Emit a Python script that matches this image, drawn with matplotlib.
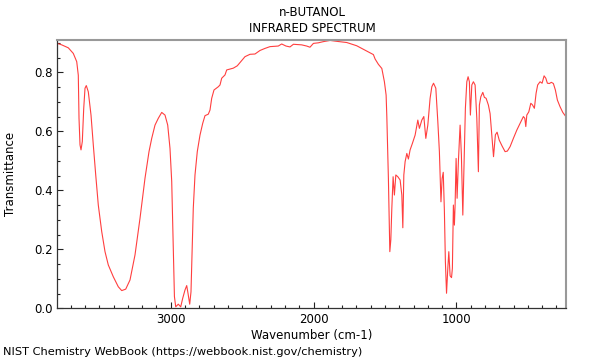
import matplotlib
matplotlib.use("Agg")
import matplotlib.pyplot as plt
from matplotlib.ticker import MultipleLocator

title_lines = ["n-BUTANOL", "INFRARED SPECTRUM"]
x_label = "Wavenumber (cm-1)"
y_label = "Transmittance"
footer = "NIST Chemistry WebBook (https://webbook.nist.gov/chemistry)"

wavenumber = [
    3794, 3763, 3717, 3682, 3658, 3647, 3642, 3635, 3628, 3619, 3609, 3600, 3591,
    3577, 3558, 3542, 3525, 3507, 3483, 3460, 3437, 3402, 3367, 3343, 3315, 3285,
    3250, 3215, 3180, 3152, 3133, 3110, 3087, 3063, 3040, 3021, 3005, 2993, 2984,
    2974, 2965, 2947, 2930, 2916, 2900, 2888, 2879, 2867, 2858, 2851, 2842, 2830,
    2814, 2795, 2776, 2760, 2737, 2725, 2713, 2697, 2667, 2655, 2643, 2620, 2608,
    2585, 2562, 2534, 2510, 2480, 2445, 2410, 2375, 2340, 2305, 2247, 2223, 2193,
    2165, 2141, 2083, 2048, 2025, 2001, 1966, 1931, 1884, 1838, 1768, 1698, 1628,
    1581, 1569, 1546, 1522, 1504, 1492, 1487, 1476, 1466, 1459, 1452, 1443, 1434,
    1424, 1410, 1394, 1382, 1375, 1368, 1359, 1347, 1336, 1324, 1308, 1289, 1270,
    1259, 1242, 1228, 1214, 1200, 1184, 1172, 1160, 1144, 1130, 1119, 1108, 1100,
    1092, 1084, 1077, 1069, 1060, 1053, 1044, 1034, 1028, 1021, 1014, 1009, 1002,
    995, 986, 974, 965, 955, 946, 937, 927, 918, 909, 902, 892, 881, 869, 857, 846,
    839, 829, 815, 804, 792, 776, 764, 752, 740, 727, 715, 700, 680, 659, 643, 624,
    601, 577, 554, 531, 521, 514, 507, 493, 479, 468, 454, 442, 431, 414, 400, 386,
    374, 363, 349, 335, 321, 307, 293, 274, 255, 234,
]
transmittance = [
    0.898, 0.893, 0.883, 0.864, 0.836, 0.790, 0.644, 0.554, 0.537, 0.565, 0.678, 0.746, 0.755,
    0.734, 0.655, 0.554, 0.452, 0.350, 0.260, 0.192, 0.147, 0.107, 0.073, 0.060, 0.065, 0.096,
    0.181, 0.305, 0.441, 0.531, 0.576, 0.621, 0.644, 0.664, 0.655, 0.621, 0.542, 0.430, 0.248,
    0.040, 0.005, 0.014, 0.005, 0.034, 0.062, 0.077, 0.051, 0.014, 0.056, 0.181, 0.339, 0.452,
    0.531, 0.587, 0.627, 0.653, 0.658, 0.672, 0.712, 0.740, 0.751, 0.757, 0.780, 0.791, 0.808,
    0.811, 0.814, 0.822, 0.836, 0.853, 0.861, 0.862, 0.874, 0.881, 0.887, 0.889, 0.896, 0.889,
    0.886, 0.895, 0.893, 0.889, 0.885, 0.898, 0.900, 0.904, 0.908, 0.905, 0.901, 0.890, 0.872,
    0.860, 0.845, 0.827, 0.813, 0.768, 0.723, 0.650, 0.440, 0.192, 0.232, 0.339, 0.446, 0.384,
    0.452, 0.446, 0.435, 0.384, 0.273, 0.452, 0.497, 0.525, 0.506, 0.537, 0.559, 0.587, 0.638,
    0.610, 0.638, 0.650, 0.576, 0.621, 0.712, 0.751, 0.763, 0.746, 0.633, 0.531, 0.361, 0.440,
    0.461, 0.330, 0.158, 0.051, 0.136, 0.192, 0.110, 0.104, 0.136, 0.350, 0.282, 0.350, 0.508,
    0.373, 0.497, 0.621, 0.520, 0.316, 0.497, 0.678, 0.768, 0.785, 0.768, 0.655, 0.757, 0.768, 0.757, 0.644, 0.463,
    0.689, 0.717, 0.732, 0.715, 0.712, 0.689, 0.660, 0.587, 0.514, 0.588, 0.597, 0.570, 0.550, 0.531, 0.533, 0.548,
    0.576, 0.604, 0.627, 0.650, 0.644, 0.616, 0.655, 0.666, 0.695, 0.690, 0.678, 0.729, 0.757, 0.768, 0.763, 0.788,
    0.780, 0.763, 0.762, 0.766, 0.762, 0.740, 0.706, 0.683, 0.664, 0.650,
]

x_ticks = [3000, 2000, 1000]
y_ticks = [0.0, 0.2, 0.4, 0.6, 0.8]

plt.rcParams['font.family'] = ['DejaVu Sans']
fig = plt.figure(figsize=(6, 3.6), dpi=100)
ax = fig.add_axes([0.0955, 0.1436, 0.8475, 0.7453])

ax.plot(wavenumber, transmittance, color='#ff2a2a', linewidth=0.8, alpha=0.9)

ax.set_xlim(3794, 234)
ax.set_ylim(0.0, 0.9095)
ax.set_xticks(x_ticks)
ax.set_xticklabels([str(v) for v in x_ticks])
ax.set_yticks(y_ticks)
ax.set_yticklabels([f"{v:.1f}" for v in y_ticks])
ax.xaxis.set_minor_locator(MultipleLocator(100))
ax.yaxis.set_minor_locator(MultipleLocator(0.05))
ax.tick_params(which='both', direction='in', top=False, right=False,
               labelsize=8.5, color='#222222')
ax.tick_params(which='major', length=4, width=0.8)
ax.tick_params(which='minor', length=2.5, width=0.8)

for side in ('left', 'bottom'):
    ax.spines[side].set_color('#333333')
    ax.spines[side].set_linewidth(0.9)
for side in ('top', 'right'):
    ax.spines[side].set_color('#999999')
    ax.spines[side].set_linewidth(1.5)

ax.set_xlabel(x_label, fontsize=8.5, labelpad=2)
ax.set_ylabel(y_label, fontsize=8.5, labelpad=12)

fig.text(0.52, 1 - 12 / 360, title_lines[0], ha='center', va='center', fontsize=8.5)
fig.text(0.52, 1 - 29 / 360, title_lines[1], ha='center', va='center', fontsize=8.5)
fig.text(3 / 600, 1 - 352 / 360, footer, ha='left', va='center', fontsize=8.2)

fig.savefig("out.png", dpi=100)
